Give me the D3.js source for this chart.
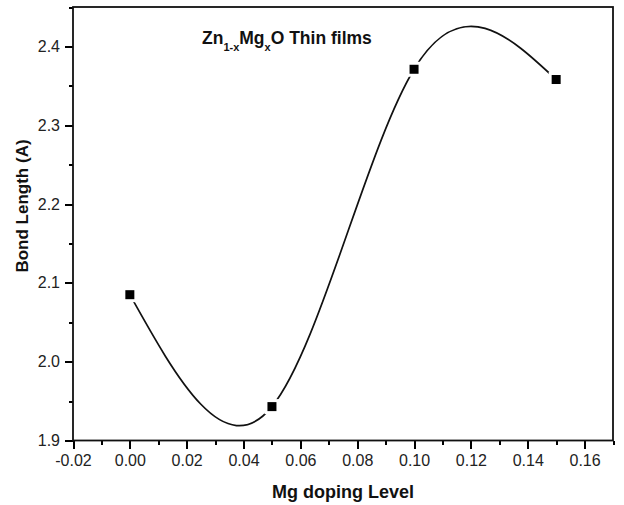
<!DOCTYPE html>
<html>
<head>
<meta charset="utf-8">
<script src="https://cdn.jsdelivr.net/npm/d3@7"></script>
<style>
  body { margin: 0; background: #fff; }
  svg { font-family: "Liberation Sans", Arial, sans-serif; }
</style>
</head>
<body>
<svg id="chart" width="624" height="505" viewBox="0 0 624 505"></svg>
<script>
// data
const dopingLevel = [0.0, 0.05, 0.10, 0.15];
const bondLength = [2.085, 1.943, 2.371, 2.358];
const xTicks = [-0.02, 0.0, 0.02, 0.04, 0.06, 0.08, 0.10, 0.12, 0.14, 0.16];
const yTicks = [1.9, 2.0, 2.1, 2.2, 2.3, 2.4];

const margins = { left: 73, right: 11, top: 7, bottom: 64.5 };
const svgWidth = 624;
const svgHeight = 505;
const width = svgWidth - margins.left - margins.right;
const height = svgHeight - margins.top - margins.bottom;

const xScale = d3.scaleLinear().domain([-0.02, 0.17]).range([0, width]);
const yScale = d3.scaleLinear().domain([1.9, 2.45]).range([height, 0]);

const svg = d3.select("#chart");
const g = svg.append("g")
  .attr("transform", `translate(${margins.left} ${margins.top})`);

// minor ticks (half steps)
const xMinor = d3.range(-0.01, 0.171, 0.02);
const yMinor = d3.range(1.95, 2.46, 0.1);

const xAxis = d3.axisBottom(xScale).tickValues(xTicks)
  .tickFormat((d) => d.toFixed(2)).tickSize(8).tickPadding(6);
const yAxis = d3.axisLeft(yScale).tickValues(yTicks)
  .tickFormat((d) => d.toFixed(1)).tickSize(8).tickPadding(5);

const xMinorAxis = d3.axisBottom(xScale).tickValues(xMinor)
  .tickFormat("").tickSize(4);
const yMinorAxis = d3.axisLeft(yScale).tickValues(yMinor)
  .tickFormat("").tickSize(4);

function styleAxis(sel) {
  sel.select("path.domain").remove();
  sel.selectAll("line")
    .attr("stroke", "#000")
    .attr("stroke-width", 2)
    .attr("shape-rendering", "crispEdges");
  sel.selectAll("text").attr("fill", "#222").style("font-size", "16px");
}

g.append("g").attr("transform", `translate(0 ${height})`).call(xMinorAxis).call(styleAxis);
g.append("g").call(yMinorAxis).call(styleAxis);
g.append("g").attr("transform", `translate(0 ${height})`).call(xAxis).call(styleAxis);
g.append("g").call(yAxis).call(styleAxis);

// frame
g.append("rect")
  .attr("x", 0).attr("y", 0)
  .attr("width", width).attr("height", height)
  .attr("fill", "none")
  .attr("stroke", "#111")
  .attr("stroke-width", 1.8);

// smooth curve through the points
const points = dopingLevel.map((d, i) => [d, bondLength[i]]);
const line = d3.line()
  .x((d) => xScale(d[0]))
  .y((d) => yScale(d[1]))
  .curve(d3.curveNatural);

g.append("path")
  .datum(points)
  .attr("d", line)
  .attr("fill", "none")
  .attr("stroke", "#111")
  .attr("stroke-width", 1.7);

// square markers, with white gap around them like the original
const size = 9;
g.selectAll("rect.marker")
  .data(points)
  .enter()
  .append("rect")
  .attr("class", "marker")
  .attr("x", (d) => xScale(d[0]) - size / 2)
  .attr("y", (d) => yScale(d[1]) - size / 2)
  .attr("width", size)
  .attr("height", size)
  .attr("fill", "#000")
  .attr("stroke", "#fff")
  .attr("stroke-width", 6)
  .attr("paint-order", "stroke");

// title inside plot
const title = g.append("text")
  .attr("x", 202 - margins.left)
  .attr("y", 44 - margins.top)
  .style("font-size", "17.5px")
  .style("font-weight", "bold")
  .attr("fill", "#111");
title.append("tspan").text("Zn");
title.append("tspan").attr("dy", 7).style("font-size", "11px").text("1-x");
title.append("tspan").attr("dy", -7).text("Mg");
title.append("tspan").attr("dy", 7).style("font-size", "11px").text("x");
title.append("tspan").attr("dy", -7).text("O Thin films");

// axis titles
svg.append("text")
  .attr("x", margins.left + width / 2)
  .attr("y", 498)
  .attr("text-anchor", "middle")
  .style("font-size", "18px")
  .style("font-weight", "bold")
  .attr("fill", "#111")
  .text("Mg doping Level");

svg.append("text")
  .attr("transform", `translate(28 ${margins.top + 199}) rotate(-90)`)
  .attr("text-anchor", "middle")
  .style("font-size", "17px")
  .style("font-weight", "bold")
  .attr("fill", "#111")
  .text("Bond Length (A)");
</script>
</body>
</html>
